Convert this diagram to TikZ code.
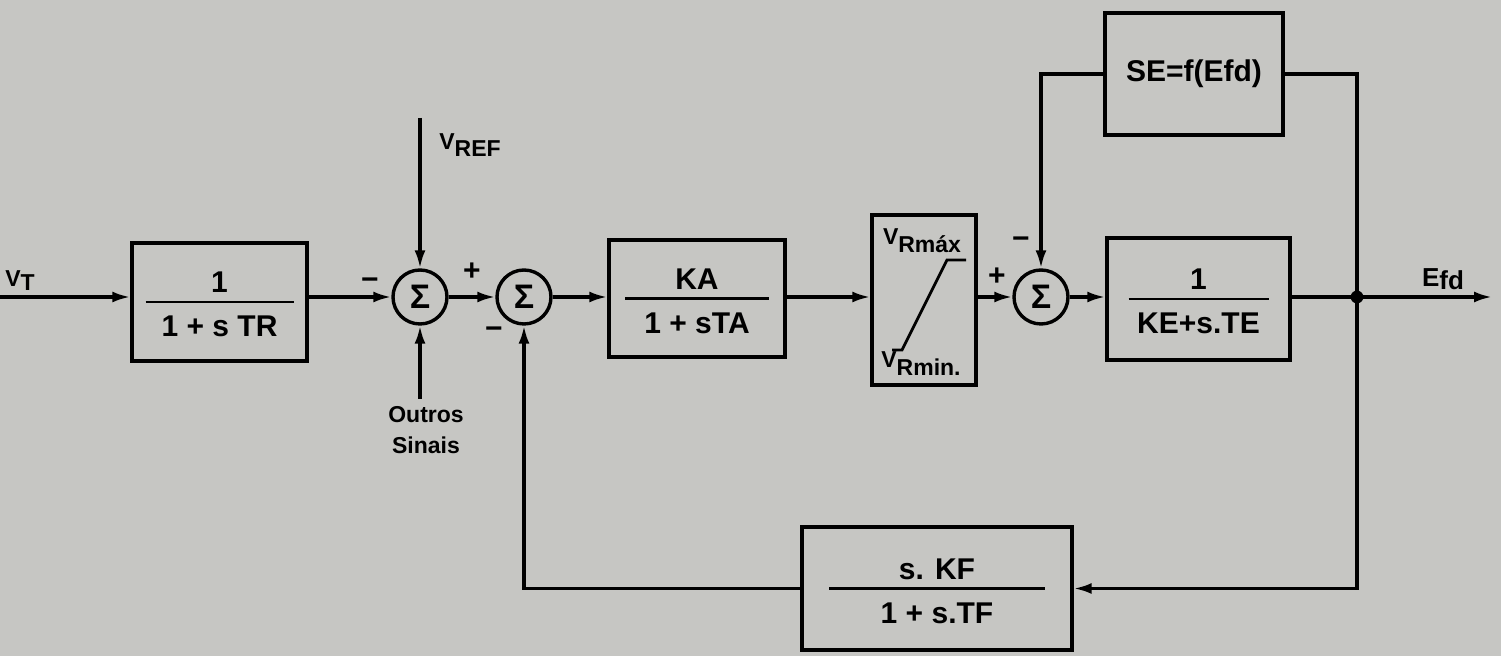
\documentclass[tikz,border=0pt]{standalone}
\usepackage{fontspec}
\setmainfont{Liberation Sans}
\usetikzlibrary{arrows.meta,positioning}
\definecolor{paper}{RGB}{198,198,195}
\tikzstyle{block}=[draw,line width=1.7pt,inner sep=0pt]
\tikzstyle{summer}=[draw,circle,line width=1.7pt,minimum size=27pt,inner sep=0pt,font=\bfseries\fontsize{17}{19}\selectfont]
\newcommand{\lowr}[2][3.5pt]{\raisebox{-#1}{#2}}

\begin{document}
\begin{tikzpicture}[x=0.5pt,y=-0.5pt,line width=1.6pt,
every node/.style={font=\bfseries\fontsize{15}{17}\selectfont},
sig/.style={-{Latex[length=9pt,width=5.5pt]}},
fracline/.style={line width=1.4pt},
num/.style={anchor=base,inner sep=0pt},
minor/.style={inner sep=0pt,align=center,font=\bfseries\fontsize{11.5}{15.5}\selectfont},
sgn/.style={inner sep=0pt}]
\fill[paper] (0,0) rectangle (1501,656);
\useasboundingbox (0,0) rectangle (1501,656);

% blocos
\node[block,minimum width=87.5pt,minimum height=59pt] (tr) at (219.5,302) {};
\node[num] (trn) at ([yshift=4.5pt]tr.center) {1};
\node[num] (trd) at ([yshift=-17.5pt]tr.center) {1 + s TR};
\draw[fracline] ([xshift=-37pt]tr.center) -- ([xshift=37pt]tr.center);

\node[block,minimum width=88pt,minimum height=58.5pt] (ka) at (697,298.5) {};
\node[num] (kan) at ([yshift=4.5pt]ka.center) {KA};
\node[num] (kad) at ([yshift=-17.5pt]ka.center) {1 + sTA};
\draw[fracline] ([xshift=-36pt]ka.center) -- ([xshift=36pt]ka.center);

\node[block,minimum width=52pt,minimum height=85pt] (lim) at (924,300) {};
\draw[line width=1.4pt] (892,350) -- (902,350) -- (947,260) -- (966,260);
\node[minor] (vmax) at (922,241) {V\lowr[4pt]{Rmáx}};
\node[minor] (vmin) at (921,364) {V\lowr[4pt]{Rmin.}};

\node[block,minimum width=89pt,minimum height=61pt] (se) at (1194,74) {\lowr[2pt]{SE=f(Efd)}};

\node[block,minimum width=91.5pt,minimum height=61pt] (ke) at (1198.5,299) {};
\node[num] (ken) at ([yshift=4.5pt]ke.center) {1};
\node[num] (ked) at ([yshift=-17.5pt]ke.center) {KE+s.TE};
\draw[fracline] ([xshift=-35pt]ke.center) -- ([xshift=35pt]ke.center);

\node[block,minimum width=135pt,minimum height=61.5pt] (fb) at (937,588.5) {};
\node[num] (fbn) at ([yshift=4.5pt]fb.center) {s. KF};
\node[num] (fbd) at ([yshift=-17.5pt]fb.center) {1 + s.TF};
\draw[fracline] ([xshift=-54pt]fb.center) -- ([xshift=54pt]fb.center);

% somadores
\node[summer] (s1) at (420,297) {Σ};
\node[summer] (s2) at (524,297) {Σ};
\node[summer] (s3) at (1041,297) {Σ};

% pontos livres
\coordinate (vt) at (0,297);
\coordinate (vref) at (420,118);
\coordinate (outs) at (420,399);
\coordinate (j) at (1357,297);
\coordinate (efd) at (1492,297);

% ligacoes
\draw[sig] (vt) -- (vt -| tr.west);
\draw[sig] (tr.east |- s1) -- (s1);
\draw[sig] (vref) -- (s1);
\draw[sig] (outs) -- (s1);
\draw[sig] (s1) -- (s2);
\draw[sig] (s2) -- (s2 -| ka.west);
\draw[sig] (ka.east |- s2) -- (s2 -| lim.west);
\draw[sig] (lim.east |- s3) -- (s3);
\draw[sig] (s3) -- (s3 -| ke.west);
\draw (ke.east |- j) -- (j);
\draw[sig] (j) -- (efd);
\fill (j) circle (3.2pt);
\draw[sig] (se.west) -| (s3.north);
\draw (se.east) -| (j);
\draw[sig] (j) |- (fb.east);
\draw[sig] (fb.west) -| (s2.south);

% textos
\node[minor] (vtl) at (20,281) {V\lowr[2pt]{T}};
\node[minor] (vrefl) at (470,145) {V\lowr{REF}};
\node[minor,anchor=north] (outl) at (426,405) {Outros\\Sinais};
\node[minor] (efdl) at (1443,279) {\fontsize{13}{15}\selectfont E\lowr[1.5pt]{fd}};
\node[sgn] (m1) at (370,284) {−};
\node[sgn] (p2) at (472,272) {+};
\node[sgn] (m2) at (494,333) {−};
\node[sgn] (p3) at (997,277) {+};
\node[sgn] (m3) at (1021,243) {−};
\end{tikzpicture}
\end{document}
